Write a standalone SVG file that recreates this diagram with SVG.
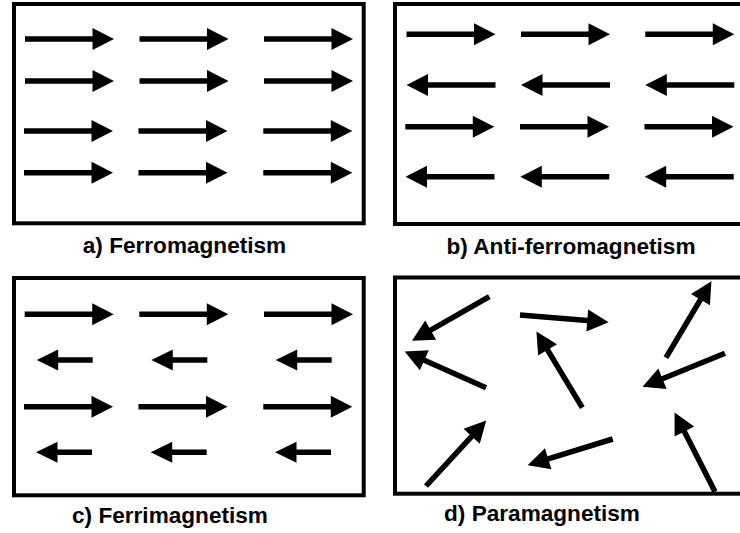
<svg xmlns="http://www.w3.org/2000/svg" xmlns:xlink="http://www.w3.org/1999/xlink" width="740" height="533" viewBox="0 0 740 533">
  <style>
    .box { fill: #fff; stroke: #000; stroke-width: 4; }
    .lbl { font-family: "Liberation Sans", Arial, Helvetica, sans-serif; font-weight: bold; font-size: 22.6px; fill: #000; text-anchor: middle; }
  </style>
  <defs>
    <path id="arr" d="M0,-2.75 H67.5 V-11 L89,0 L67.5,11 V2.75 H0 Z" fill="#000"/>
    <path id="sarr" d="M0,-2.75 H34.5 V-10.5 L56,0 L34.5,10.5 V2.75 H0 Z" fill="#000"/>
  </defs>
  <rect x="0" y="0" width="740" height="533" fill="#fff"/>

  <g id="panel-a">
    <rect class="box" x="14" y="4" width="349.7" height="219.3"/>
    <use href="#arr" transform="translate(25,39)"/>
    <use href="#arr" transform="translate(139.5,39)"/>
    <use href="#arr" transform="translate(264,39)"/>
    <use href="#arr" transform="translate(25,81)"/>
    <use href="#arr" transform="translate(139.5,81)"/>
    <use href="#arr" transform="translate(264,81)"/>
    <use href="#arr" transform="translate(24,131)"/>
    <use href="#arr" transform="translate(138.5,131)"/>
    <use href="#arr" transform="translate(263.3,131)"/>
    <use href="#arr" transform="translate(24,172.7)"/>
    <use href="#arr" transform="translate(138.5,172.7)"/>
    <use href="#arr" transform="translate(263.3,172.7)"/>
    <text class="lbl" x="184.5" y="253">a) Ferromagnetism</text>
  </g>

  <g id="panel-b">
    <rect class="box" x="395" y="4" width="352" height="220"/>
    <use href="#arr" transform="translate(406.5,34.3)"/>
    <use href="#arr" transform="translate(521,34.3)"/>
    <use href="#arr" transform="translate(645.3,34.3)"/>
    <use href="#arr" transform="translate(495.5,85) rotate(180)"/>
    <use href="#arr" transform="translate(610,85) rotate(180)"/>
    <use href="#arr" transform="translate(734.3,85) rotate(180)"/>
    <use href="#arr" transform="translate(405.3,126.7)"/>
    <use href="#arr" transform="translate(520,126.7)"/>
    <use href="#arr" transform="translate(644.5,126.7)"/>
    <use href="#arr" transform="translate(494.5,176.7) rotate(180)"/>
    <use href="#arr" transform="translate(609.3,176.7) rotate(180)"/>
    <use href="#arr" transform="translate(733.7,176.7) rotate(180)"/>
    <text class="lbl" x="571" y="253.5">b) Anti-ferromagnetism</text>
  </g>

  <g id="panel-c">
    <rect class="box" x="14" y="278" width="349.7" height="217.3"/>
    <use href="#arr" transform="translate(24.7,314.3)"/>
    <use href="#arr" transform="translate(139.3,314.3)"/>
    <use href="#arr" transform="translate(264,314.3)"/>
    <use href="#sarr" transform="translate(92.7,360) rotate(180)"/>
    <use href="#sarr" transform="translate(207.3,360) rotate(180)"/>
    <use href="#sarr" transform="translate(331.7,360) rotate(180)"/>
    <use href="#arr" transform="translate(24,406.7)"/>
    <use href="#arr" transform="translate(138.5,406.7)"/>
    <use href="#arr" transform="translate(263.3,406.7)"/>
    <use href="#sarr" transform="translate(92,452.3) rotate(180)"/>
    <use href="#sarr" transform="translate(206.7,452.3) rotate(180)"/>
    <use href="#sarr" transform="translate(331,452.3) rotate(180)"/>
    <text class="lbl" x="170" y="523">c) Ferrimagnetism</text>
  </g>

  <g id="panel-d">
    <rect class="box" x="395" y="277.5" width="352" height="216.2"/>
    <use href="#arr" transform="translate(489.3,296.7) rotate(150.3)"/>
    <use href="#arr" transform="translate(520,315) rotate(4.7)"/>
    <use href="#arr" transform="translate(486,387.7) rotate(-156)"/>
    <use href="#arr" transform="translate(582.3,407.7) rotate(-121)"/>
    <use href="#arr" transform="translate(666,357.7) rotate(-59.3)"/>
    <use href="#arr" transform="translate(725,353.3) rotate(157.9)"/>
    <use href="#arr" transform="translate(426,486) rotate(-47.4)"/>
    <use href="#arr" transform="translate(612.7,439) rotate(162.9)"/>
    <use href="#arr" transform="translate(715,491.7) rotate(-117)"/>
    <text class="lbl" x="542" y="521">d) Paramagnetism</text>
  </g>
</svg>
